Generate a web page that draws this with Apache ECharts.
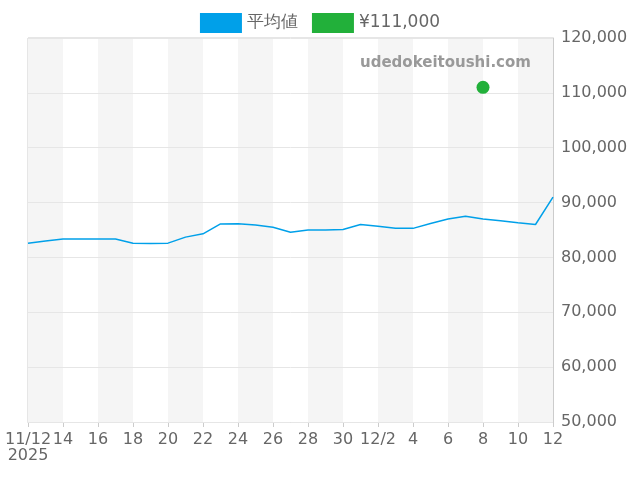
<!DOCTYPE html>
<html>
<head>
<meta charset="utf-8">
<script src="https://cdn.jsdelivr.net/npm/echarts@6/dist/echarts.min.js"></script>
<style>html,body{margin:0;padding:0}#main{width:640px;height:480px}</style>
</head>
<body>
<div id="main"></div>
<script>
// 日付ラベル
const dates = ['11/12\n2025','13','14','15','16','17','18','19','20','21','22','23','24','25','26','27','28','29','30',
  '12/1','12/2','3','4','5','6','7','8','9','10','11','12'];
// 平均値
const avgValues = [82600,83000,83350,83350,83350,83350,82600,82550,82600,83700,84300,86100,86150,85900,85500,84600,
  85000,85000,85100,86000,85700,85300,85300,86200,87000,87500,87000,86700,86300,86000,91000];
// 現在価格
const priceIndex = 26;
const priceValue = 111000;

const priceData = dates.map((d, i) => i === priceIndex ? priceValue : null);

const myChart = echarts.init(document.getElementById('main'));
myChart.setOption({
  animation: false,
  textStyle: { fontFamily: 'DejaVu Sans' },
  legend: {
    top: 8, left: 'center', itemWidth: 42, itemHeight: 20, itemGap: 14,
    icon: 'rect',
    textStyle: { fontSize: 17, color: '#666' },
    data: ['平均値', '¥111,000']
  },
  grid: { left: 28, right: 87, top: 38, bottom: 58, show: true, borderColor: '#ccc', borderWidth: 1, backgroundColor: 'transparent' },
  graphic: [{
    type: 'text', left: 360, top: 56, z: 100,
    style: { text: 'udedokeitoushi.com', fill: '#999', fontSize: 15, fontWeight: 'bold', fontFamily: 'DejaVu Sans' }
  }],
  xAxis: {
    type: 'category', boundaryGap: false, data: dates, z: 0,
    axisLine: { lineStyle: { color: '#ccc' } },
    axisTick: { interval: 1, lineStyle: { color: '#ccc' } },
    axisLabel: { interval: 1, color: '#666', fontSize: 16, margin: 10 },
    splitArea: { show: true, interval: 1, areaStyle: { color: ['#f5f5f5', '#ffffff'] } },
    splitLine: { show: false }
  },
  yAxis: {
    type: 'value', position: 'right', min: 50000, max: 120000, interval: 10000, z: 1,
    axisLine: { show: true, lineStyle: { color: '#ccc' } },
    axisLabel: { color: '#666', fontSize: 16, formatter: v => v.toLocaleString('en-US') },
    splitLine: { lineStyle: { color: '#e6e6e6' } }
  },
  series: [
    { name: '平均値', type: 'line', data: avgValues, showSymbol: false, symbol: 'none', color: '#00a0e9',
      itemStyle: { color: '#00a0e9' }, lineStyle: { width: 1.5, color: '#00a0e9' } },
    { name: '¥111,000', type: 'scatter', data: priceData, symbolSize: 13, color: '#22b03a',
      itemStyle: { color: '#22b03a', opacity: 1 } }
  ]
});
</script>
</body>
</html>
